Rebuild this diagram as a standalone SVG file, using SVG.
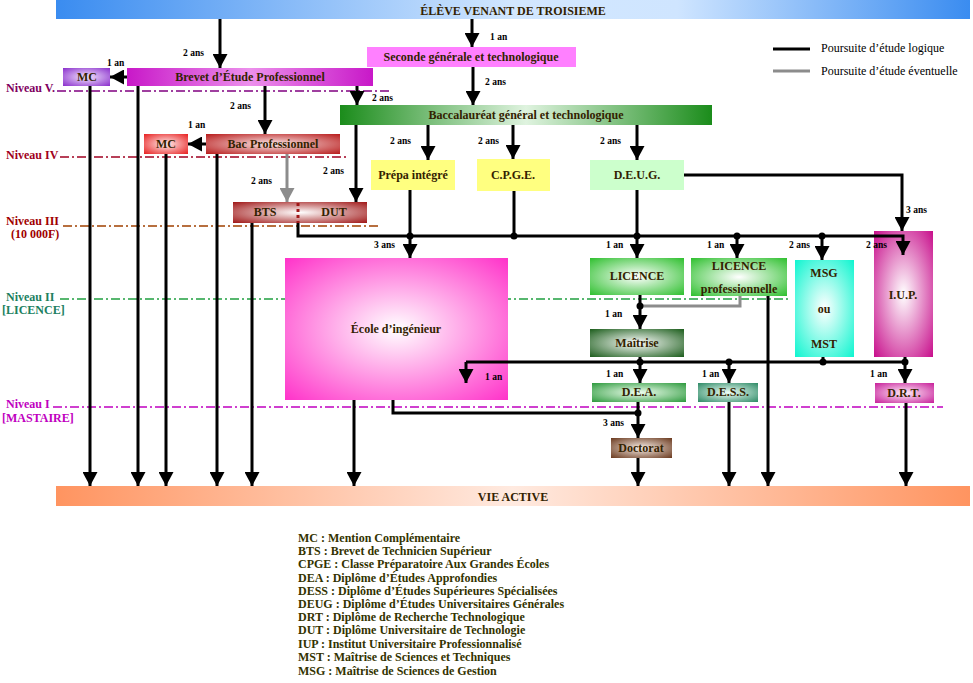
<svg xmlns="http://www.w3.org/2000/svg" width="973" height="683" viewBox="0 0 973 683">
<style>
.t{font-family:"Liberation Serif","Times New Roman",serif;font-weight:bold;font-size:12px;fill:#332200;text-anchor:middle}
.s{font-family:"Liberation Serif","Times New Roman",serif;font-weight:bold;font-size:9.5px;fill:#000}
.lg{font-family:"Liberation Serif","Times New Roman",serif;font-size:12px;fill:#000}
.lv{font-family:"Liberation Serif","Times New Roman",serif;font-weight:bold;font-size:12px}
.ab{font-family:"Liberation Serif","Times New Roman",serif;font-weight:bold;font-size:12px;fill:#333300}
.c{fill:none;stroke:#000;stroke-width:3;marker-end:url(#ah)}
.n{fill:none;stroke:#000;stroke-width:3}
.g{fill:none;stroke:#8c8c8c;stroke-width:3}
.lvl{fill:none;stroke-width:1.5;stroke-dasharray:9 3 2 3}
</style>
<defs>
<marker id="ah" markerUnits="userSpaceOnUse" markerWidth="15" markerHeight="15" refX="14" refY="7.5" orient="auto"><path d="M0,0 L14,7.5 L0,15 z" fill="#000"/></marker>
<marker id="ahg" markerUnits="userSpaceOnUse" markerWidth="15" markerHeight="15" refX="14" refY="7.5" orient="auto"><path d="M0,0 L14,7.5 L0,15 z" fill="#8c8c8c"/></marker>
<linearGradient id="gTop" x1="0" x2="1" y1="0" y2="0"><stop offset="0" stop-color="#3a8cf0"/><stop offset="0.5" stop-color="#d2e7ff"/><stop offset="0.68" stop-color="#cfe5ff"/><stop offset="1" stop-color="#3a8cf0"/></linearGradient>
<linearGradient id="gVie" x1="0" x2="1" y1="0" y2="0"><stop offset="0" stop-color="#ff9460"/><stop offset="0.5" stop-color="#ffeae0"/><stop offset="1" stop-color="#ff9460"/></linearGradient>
<radialGradient id="gMC1" r="0.7"><stop offset="0" stop-color="#f4e8ff"/><stop offset="1" stop-color="#8a2fcc"/></radialGradient>
<linearGradient id="gBEP" x1="0" x2="1"><stop offset="0" stop-color="#c818c8"/><stop offset="0.5" stop-color="#ec90ec"/><stop offset="1" stop-color="#c818c8"/></linearGradient>
<linearGradient id="gBac" x1="0" x2="1"><stop offset="0" stop-color="#1b8c1b"/><stop offset="0.5" stop-color="#dff3df"/><stop offset="1" stop-color="#1b8c1b"/></linearGradient>
<radialGradient id="gMC2" r="0.7"><stop offset="0" stop-color="#fff0f0"/><stop offset="1" stop-color="#e82020"/></radialGradient>
<radialGradient id="gBP" r="0.7"><stop offset="0" stop-color="#fbe8e8"/><stop offset="1" stop-color="#b81c1c"/></radialGradient>
<radialGradient id="gBTS" r="0.7"><stop offset="0" stop-color="#ffffff"/><stop offset="1" stop-color="#a01818"/></radialGradient>
<radialGradient id="gEc" r="0.72"><stop offset="0" stop-color="#ffffff"/><stop offset="1" stop-color="#ff2ec8"/></radialGradient>
<radialGradient id="gLic" r="0.7"><stop offset="0" stop-color="#ffffff"/><stop offset="1" stop-color="#30c030"/></radialGradient>
<radialGradient id="gMSG" r="0.7"><stop offset="0" stop-color="#ffffff"/><stop offset="1" stop-color="#10f5d0"/></radialGradient>
<radialGradient id="gIUP" r="0.7"><stop offset="0" stop-color="#ffffff"/><stop offset="1" stop-color="#c8108c"/></radialGradient>
<radialGradient id="gMai" r="0.7"><stop offset="0" stop-color="#ffffff"/><stop offset="1" stop-color="#1d5e1d"/></radialGradient>
<radialGradient id="gDEA" r="0.7"><stop offset="0" stop-color="#f0fff0"/><stop offset="1" stop-color="#2e9a3e"/></radialGradient>
<radialGradient id="gDESS" r="0.7"><stop offset="0" stop-color="#f0fff8"/><stop offset="1" stop-color="#2e8a66"/></radialGradient>
<radialGradient id="gDRT" r="0.7"><stop offset="0" stop-color="#fff0fa"/><stop offset="1" stop-color="#c8209a"/></radialGradient>
<radialGradient id="gDoc" r="0.7"><stop offset="0" stop-color="#f8efe8"/><stop offset="1" stop-color="#6b3a1f"/></radialGradient>
</defs>

<g id="levels">
<line class="lvl" x1="57" y1="91" x2="390" y2="91" stroke="#800080"/>
<line class="lvl" x1="60" y1="157" x2="348" y2="157" stroke="#a00020"/>
<line class="lvl" x1="63" y1="226" x2="380" y2="226" stroke="#a04000"/>
<line class="lvl" x1="60" y1="299" x2="790" y2="299" stroke="#20a040" stroke-width="2"/>
<line class="lvl" x1="53" y1="407" x2="943" y2="407" stroke="#c000c0"/>
<text class="lv" x="6" y="92" fill="#800060">Niveau V.</text>
<text class="lv" x="6" y="159" fill="#a00020">Niveau IV</text>
<text class="lv" x="6" y="225" fill="#a00000">Niveau III</text>
<text class="lv" x="11" y="238" fill="#a00000" font-size="8">(10 000F)</text>
<text class="lv" x="6" y="301" fill="#208060">Niveau II</text>
<text class="lv" x="2" y="314" fill="#208060">[LICENCE]</text>
<text class="lv" x="6" y="408" fill="#c000c0">Niveau I</text>
<text class="lv" x="2" y="422" fill="#c000c0" font-size="8">[MASTAIRE]</text>
</g>

<g id="legend">
<line x1="773" y1="49" x2="810" y2="49" stroke="#000" stroke-width="3"/>
<line x1="773" y1="71" x2="810" y2="71" stroke="#8c8c8c" stroke-width="3"/>
<text class="lg" x="821" y="52">Poursuite d’étude logique</text>
<text class="lg" x="821" y="75">Poursuite d’étude éventuelle</text>
</g>

<g id="top"><rect x="56" y="0" width="914" height="19" fill="url(#gTop)"/><text class="t" x="513" y="15">ÉLÈVE VENANT DE TROISIEME</text></g>
<g id="vie"><rect x="56" y="486" width="914" height="20" fill="url(#gVie)"/><text class="t" x="513" y="501">VIE ACTIVE</text></g>
<g id="mc1"><rect x="63" y="68" width="47" height="18" fill="url(#gMC1)"/><text class="t" x="87" y="81">MC</text></g>
<g id="bep"><rect x="127" y="68" width="246" height="18" fill="url(#gBEP)"/><text class="t" x="250" y="81">Brevet d’Étude Professionnel</text></g>
<g id="seconde"><rect x="367" y="47" width="209" height="20" fill="#ff80ff"/><text class="t" x="471" y="61">Seconde générale et technologique</text></g>
<g id="bac"><rect x="340" y="105" width="372" height="20" fill="url(#gBac)"/><text class="t" x="526" y="119">Baccalauréat général et technologique</text></g>
<g id="mc2"><rect x="144" y="134" width="44" height="20" fill="url(#gMC2)"/><text class="t" x="166" y="148">MC</text></g>
<g id="bacpro"><rect x="206" y="134" width="134" height="20" fill="url(#gBP)"/><text class="t" x="273" y="148">Bac Professionnel</text></g>
<g id="btsdut"><rect x="233" y="202" width="134" height="21" fill="url(#gBTS)"/><line x1="298" y1="203" x2="298" y2="223" stroke="#a01818" stroke-width="3" stroke-dasharray="3 3"/><text class="t" x="265" y="216">BTS</text><text class="t" x="334" y="216">DUT</text></g>
<g id="prepa"><rect x="371" y="160" width="84" height="30" fill="#ffff80"/><text class="t" x="413" y="179">Prépa intégré</text></g>
<g id="cpge"><rect x="477" y="159" width="73" height="32" fill="#ffff80"/><text class="t" x="513" y="179">C.P.G.E.</text></g>
<g id="deug"><rect x="590" y="160" width="94" height="30" fill="#ccffcc"/><text class="t" x="637" y="179">D.E.U.G.</text></g>
<g id="ecole"><rect x="285" y="258" width="223" height="142" fill="url(#gEc)"/><text class="t" x="396" y="333">École d’ingénieur</text></g>
<g id="licence"><rect x="590" y="258" width="94" height="37" fill="url(#gLic)"/><text class="t" x="637" y="280">LICENCE</text></g>
<g id="licpro"><rect x="691" y="258" width="96" height="38" fill="url(#gLic)"/><text class="t" x="739" y="270">LICENCE</text><text class="t" x="739" y="293">professionnelle</text></g>
<g id="msg"><rect x="795" y="260" width="59" height="97" fill="url(#gMSG)"/><text class="t" x="824" y="277">MSG</text><text class="t" x="824" y="313">ou</text><text class="t" x="824" y="348">MST</text></g>
<g id="iup"><rect x="874" y="231" width="59" height="126" fill="url(#gIUP)"/><text class="t" x="903" y="299" font-size="13">I.U.P.</text></g>
<g id="maitrise"><rect x="590" y="329" width="94" height="28" fill="url(#gMai)"/><text class="t" x="637" y="347">Maîtrise</text></g>
<g id="dea"><rect x="592" y="383" width="94" height="19" fill="url(#gDEA)"/><text class="t" x="639" y="396">D.E.A.</text></g>
<g id="dess"><rect x="698" y="383" width="60" height="19" fill="url(#gDESS)"/><text class="t" x="728" y="396">D.E.S.S.</text></g>
<g id="drt"><rect x="875" y="383" width="59" height="20" fill="url(#gDRT)"/><text class="t" x="904" y="397">D.R.T.</text></g>
<g id="doctorat"><rect x="611" y="438" width="61" height="20" fill="url(#gDoc)"/><text class="t" x="641" y="452">Doctorat</text></g>

<g id="connectors">
<path class="c" d="M220,19 V68"/>
<path class="c" d="M472,19 V47"/>
<path class="c" d="M473,67 V105"/>
<path class="c" d="M127,77 H110"/>
<path class="c" d="M265,86 V134"/>
<path class="c" d="M357,86 V105"/>
<path class="c" d="M356,125 V202"/>
<path class="c" d="M206,144 H188"/>
<path class="g" d="M287,154 V202" marker-end="url(#ahg)"/>
<path class="c" d="M428,125 V160"/>
<path class="c" d="M513,125 V159"/>
<path class="c" d="M637,125 V160"/>
<path class="c" d="M684,175 H902 V231"/>
<path class="c" d="M298,223 V236 H903 V255"/>
<path class="c" d="M410,190 V258"/>
<path class="n" d="M514,191 V236"/>
<path class="c" d="M637,190 V258"/>
<path class="c" d="M737,236 V258"/>
<path class="c" d="M822,236 V260"/>
<path class="c" d="M90,86 V486"/>
<path class="c" d="M138,86 V486"/>
<path class="c" d="M166,154 V486"/>
<path class="c" d="M217,154 V486"/>
<path class="c" d="M252,223 V486"/>
<path class="c" d="M354,400 V486"/>
<path class="c" d="M729,402 V486"/>
<path class="c" d="M768,296 V486"/>
<path class="c" d="M906,403 V486"/>
<path class="g" d="M740,296 V306 H640"/>
<path class="c" d="M640,295 V329"/>
<path class="n" d="M466,362 H905"/>
<path class="c" d="M466,362 V383"/>
<path class="c" d="M640,357 V383"/>
<path class="c" d="M729,362 V383"/>
<path class="n" d="M823,357 V362"/>
<path class="c" d="M905,357 V383"/>
<path class="n" d="M393,400 V413 H638"/>
<path class="c" d="M638,402 V438"/>
<path class="c" d="M638,458 V486"/>
<g fill="#000">
<circle cx="410" cy="236" r="3.5"/><circle cx="514" cy="236" r="3.5"/><circle cx="637" cy="236" r="3.5"/>
<circle cx="737" cy="236" r="3.5"/><circle cx="822" cy="236" r="3.5"/><circle cx="640" cy="306" r="3.5"/>
<circle cx="640" cy="362" r="3.5"/><circle cx="729" cy="362" r="3.5"/><circle cx="823" cy="362" r="3.5"/>
<circle cx="905" cy="362" r="3.5"/><circle cx="638" cy="413" r="3.5"/>
</g>
<text class="s" x="183" y="56">2 ans</text>
<text class="s" x="490" y="40">1 an</text>
<text class="s" x="485" y="85">2 ans</text>
<text class="s" x="107" y="66">1 an</text>
<text class="s" x="230" y="109">2 ans</text>
<text class="s" x="372" y="101">2 ans</text>
<text class="s" x="323" y="174">2 ans</text>
<text class="s" x="188" y="128">1 an</text>
<text class="s" x="251" y="184">2 ans</text>
<text class="s" x="390" y="144">2 ans</text>
<text class="s" x="478" y="144">2 ans</text>
<text class="s" x="600" y="144">2 ans</text>
<text class="s" x="906" y="213">3 ans</text>
<text class="s" x="866" y="248">2 ans</text>
<text class="s" x="374" y="248">3 ans</text>
<text class="s" x="606" y="248">1 an</text>
<text class="s" x="707" y="248">1 an</text>
<text class="s" x="789" y="248">2 ans</text>
<text class="s" x="605" y="317">1 an</text>
<text class="s" x="485" y="380">1 an</text>
<text class="s" x="606" y="377">1 an</text>
<text class="s" x="702" y="377">1 an</text>
<text class="s" x="870" y="377">1 an</text>
<text class="s" x="603" y="426">3 ans</text>
</g>

<g id="abbreviations">
<text class="ab" x="298" y="542">MC : Mention Complémentaire</text>
<text class="ab" x="298" y="555">BTS : Brevet de Technicien Supérieur</text>
<text class="ab" x="298" y="568">CPGE : Classe Préparatoire Aux Grandes Écoles</text>
<text class="ab" x="298" y="582">DEA : Diplôme d’Études Approfondies</text>
<text class="ab" x="298" y="595">DESS : Diplôme d’Études Supérieures Spécialisées</text>
<text class="ab" x="298" y="608">DEUG : Diplôme d’Études Universitaires Générales</text>
<text class="ab" x="298" y="621">DRT : Diplôme de Recherche Technologique</text>
<text class="ab" x="298" y="634">DUT : Diplôme Universitaire de Technologie</text>
<text class="ab" x="298" y="648">IUP : Institut Universitaire Professionnalisé</text>
<text class="ab" x="298" y="661">MST : Maîtrise de Sciences et Techniques</text>
<text class="ab" x="298" y="675">MSG : Maîtrise de Sciences de Gestion</text>
</g>
</svg>
